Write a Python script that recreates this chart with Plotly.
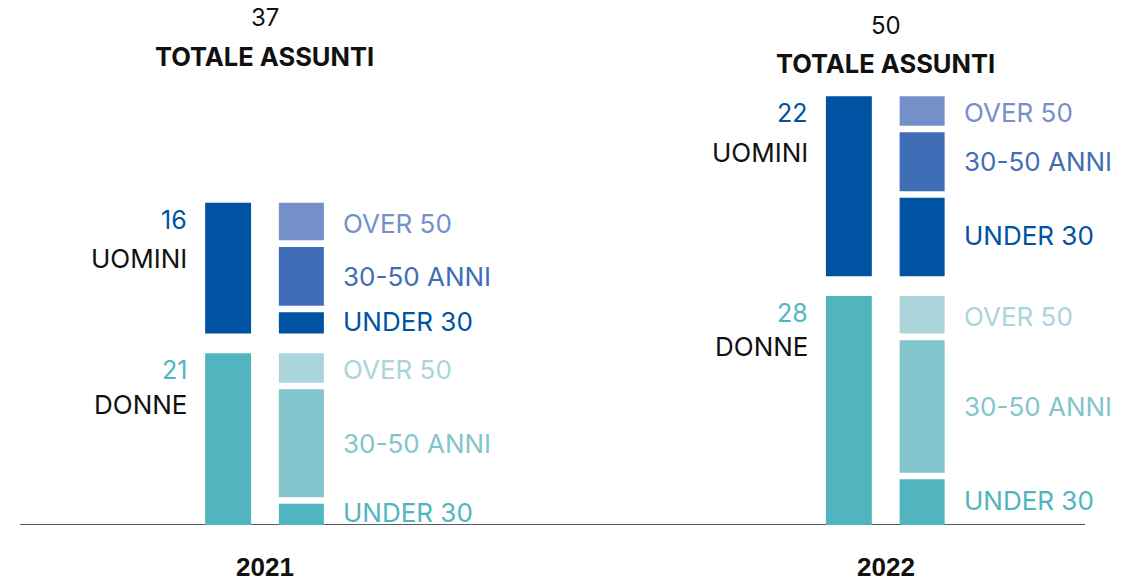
import plotly.graph_objects as go

# ---------------- data ----------------
years = ["2021", "2022"]
totals = [37, 50]
donne = [21, 28]
uomini = [16, 22]
age_groups = ["UNDER 30", "30-50 ANNI", "OVER 50"]
donne_by_age = {"UNDER 30": [3, 6], "30-50 ANNI": [14, 17], "OVER 50": [4, 5]}
uomini_by_age = {"UNDER 30": [3, 10], "30-50 ANNI": [8, 8], "OVER 50": [5, 4]}

# ---------------- style ----------------
C_UOMINI = "#0052A2"
C_DONNE = "#51B5C0"
C_U_AGE = {"UNDER 30": "#0052A2", "30-50 ANNI": "#3F6EB6", "OVER 50": "#7590C9"}
C_D_AGE = {"UNDER 30": "#51B5C0", "30-50 ANNI": "#83C5CC", "OVER 50": "#A9D5DB"}
FONT = "Inter, Lato, 'Open Sans', sans-serif"
GAP_GROUP = 2.4     # gap between donne and uomini stacks (data units)
GAP_SEG = 0.8       # gap between age segments
OFF = 0.059
W_TOT = 0.074
W_BRK = 0.0725
SCALE = 8.18        # px per unit

xpos = list(range(len(years)))
fig = go.Figure()

# total bars
fig.add_trace(go.Bar(x=[p - OFF for p in xpos], y=donne, base=[0] * len(years),
                     width=W_TOT, marker=dict(color=C_DONNE, line_width=0),
                     hoverinfo="skip", showlegend=False))
fig.add_trace(go.Bar(x=[p - OFF for p in xpos], y=uomini,
                     base=[d + GAP_GROUP for d in donne],
                     width=W_TOT, marker=dict(color=C_UOMINI, line_width=0),
                     hoverinfo="skip", showlegend=False))

annotations = []


def add_breakdown(by_age, colors, start_vals):
    cum = list(start_vals)
    n = len(age_groups)
    for i, g in enumerate(age_groups):
        vals = by_age[g]
        bases, heights, mids = [], [], []
        for k, v in enumerate(vals):
            lo = cum[k] + (GAP_SEG / 2 if i > 0 else 0)
            hi = cum[k] + v - (GAP_SEG / 2 if i < n - 1 else 0)
            bases.append(lo)
            heights.append(hi - lo)
            mids.append(cum[k] + v / 2)
            cum[k] += v
        fig.add_trace(go.Bar(x=[p + OFF for p in xpos], y=heights, base=bases,
                             width=W_BRK, marker=dict(color=colors[g], line_width=0),
                             hoverinfo="skip", showlegend=False))
        for k in range(len(years)):
            annotations.append(dict(x=xpos[k] + OFF, y=mids[k], xref="x", yref="y",
                                    text=g, showarrow=False, xanchor="left",
                                    yanchor="middle", xshift=40,
                                    font=dict(family=FONT, size=26, color=colors[g])))


add_breakdown(donne_by_age, C_D_AGE, [0, 0])
add_breakdown(uomini_by_age, C_U_AGE, [d + GAP_GROUP for d in donne])

# labels to the left of total bars
for k in range(len(years)):
    for top, num, name, col in [(donne[k], donne[k], "DONNE", C_DONNE),
                                (donne[k] + GAP_GROUP + uomini[k], uomini[k], "UOMINI", C_UOMINI)]:
        annotations.append(dict(x=xpos[k] - OFF, y=top, xref="x", yref="y",
                                text=str(num), showarrow=False, xanchor="right",
                                yanchor="middle", xshift=-39, yshift=-17,
                                font=dict(family=FONT, size=25, color=col)))
        annotations.append(dict(x=xpos[k] - OFF, y=top, xref="x", yref="y",
                                text=name, showarrow=False, xanchor="right",
                                yanchor="middle", xshift=-39, yshift=-56 if name == "UOMINI" else -51,
                                font=dict(family=FONT, size=26, color="#111111")))

# totals on top
tot_y = [(0.9676, 0.8933), (0.952, 0.88)]
for k in range(len(years)):
    annotations.append(dict(x=xpos[k], y=tot_y[k][0], xref="x", yref="paper",
                            text=str(totals[k]), showarrow=False, yanchor="middle",
                            font=dict(family=FONT, size=24, color="#111111")))
    annotations.append(dict(x=xpos[k], y=tot_y[k][1], xref="x", yref="paper",
                            text="<b>TOTALE ASSUNTI</b>", showarrow=False, yanchor="middle",
                            font=dict(family=FONT, size=25.5, color="#111111")))
    annotations.append(dict(x=xpos[k], y=0, xref="x", yref="y",
                            text="<b>" + years[k] + "</b>", showarrow=False, yanchor="middle",
                            yshift=-42,
                            font=dict(family="'Liberation Sans', Arial, sans-serif", size=26,
                                      color="#111111")))

fig.update_layout(
    width=1139, height=583,
    margin=dict(l=0, r=0, t=0, b=58),
    paper_bgcolor="white", plot_bgcolor="white",
    barmode="overlay",
    xaxis=dict(range=[-264.75 / 620.75, (1139 - 264.75) / 620.75], visible=False,
               fixedrange=True),
    yaxis=dict(range=[0, 525 / SCALE], visible=False, fixedrange=True),
    annotations=annotations,
    shapes=[dict(type="line", xref="paper", yref="y", x0=20 / 1139, x1=1085 / 1139,
                 y0=0, y1=0, line=dict(color="#222222", width=1.5), layer="below")],
)

fig.write_html("out.html", config={"displayModeBar": False},
               post_script="document.body.style.margin='0';document.body.style.padding='0';")
